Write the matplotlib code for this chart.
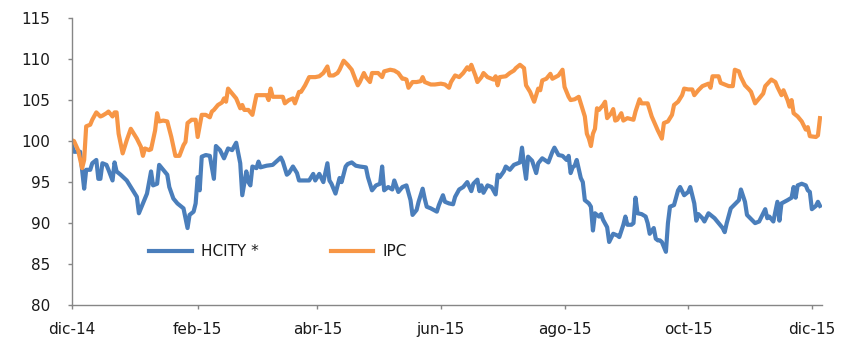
import matplotlib
matplotlib.use("Agg")
import matplotlib.pyplot as plt
import pandas as pd

# Fecha base del eje (días contados desde aquí)
inicio = pd.Timestamp("2014-12-01")

# IPC: días desde el inicio y valor del índice (base 100)
ipc_dias = [0, 1, 3, 5, 6, 7, 9, 10, 12, 14,
            15, 17, 18, 20, 21, 22, 23, 25, 27, 29,
            30, 32, 34, 35, 36, 38, 39, 41, 42, 43,
            45, 47, 49, 51, 53, 55, 56, 57, 59, 61,
            62, 64, 66, 68, 69, 70, 72, 74, 75, 76,
            77, 79, 81, 83, 84, 85, 87, 89, 91, 94,
            96, 97, 98, 99, 102, 104, 105, 107, 109, 110,
            112, 113, 115, 117, 120, 122, 124, 126, 127, 129,
            131, 132, 134, 136, 138, 140, 141, 142, 144, 145,
            147, 148, 151, 153, 154, 157, 159, 161, 163, 164,
            165, 166, 168, 170, 172, 173, 174, 177, 179, 182,
            184, 185, 186, 187, 189, 191, 193, 195, 196, 197,
            199, 200, 202, 203, 205, 208, 209, 210, 211, 214,
            216, 218, 219, 221, 223, 224, 226, 227, 228, 230,
            231, 232, 234, 236, 237, 240, 242, 243, 245, 246,
            248, 250, 251, 253, 254, 255, 256, 257, 258, 259,
            260, 262, 263, 264, 266, 267, 268, 269, 271, 272,
            274, 277, 278, 280, 281, 284, 286, 289, 291, 292,
            294, 296, 297, 299, 301, 302, 304, 306, 307, 309,
            311, 314, 315, 316, 319, 320, 322, 324, 326, 327,
            329, 330, 332, 334, 335, 337, 339, 341, 342, 345,
            347, 348, 350, 351, 353, 354, 355, 356, 358, 360,
            362, 363, 364, 367, 368, 369]
ipc = [100.1, 100.0, 98.9, 96.7, 97.7, 101.8, 102.0, 102.6, 103.5, 103.0,
       103.1, 103.4, 103.6, 103.0, 103.5, 103.5, 100.9, 98.5, 100.1, 101.5,
       101.1, 100.3, 99.3, 98.2, 99.1, 98.9, 99.0, 101.3, 103.4, 102.4,
       102.5, 102.4, 100.5, 98.2, 98.2, 99.5, 99.9, 102.2, 102.6, 102.6,
       100.5, 103.2, 103.2, 102.9, 103.6, 103.8, 104.4, 104.7, 105.2, 104.8,
       106.4, 105.8, 105.2, 104.0, 104.4, 103.8, 103.8, 103.2, 105.6, 105.6,
       105.6, 105.0, 106.4, 105.4, 105.4, 105.4, 104.6, 105.0, 105.2, 104.6,
       106.0, 106.0, 106.8, 107.8, 107.8, 107.9, 108.3, 109.1, 108.0, 108.0,
       108.3, 108.7, 109.8, 109.3, 108.7, 107.4, 106.8, 107.2, 108.3, 107.8,
       107.2, 108.3, 108.3, 107.8, 108.5, 108.7, 108.6, 108.3, 107.6, 107.6,
       107.5, 106.5, 107.2, 107.2, 107.3, 107.8, 107.2, 106.9, 106.9, 107.0,
       106.9, 106.7, 106.5, 107.2, 108.0, 107.8, 108.3, 109.0, 108.7, 109.3,
       108.0, 107.2, 107.8, 108.3, 107.8, 107.5, 107.9, 106.8, 107.8, 107.9,
       108.3, 108.6, 108.9, 109.3, 108.9, 106.8, 106.0, 105.4, 104.8, 106.4,
       106.2, 107.4, 107.6, 108.2, 107.6, 108.0, 108.7, 106.6, 105.4, 105.0,
       105.1, 105.4, 104.6, 103.0, 100.9, 100.3, 99.4, 100.9, 101.5, 104.0,
       103.8, 104.4, 104.8, 102.8, 103.4, 103.9, 102.5, 102.6, 103.4, 102.5,
       102.8, 102.6, 103.6, 105.1, 104.6, 104.6, 103.0, 101.3, 100.3, 102.2,
       102.4, 103.2, 104.4, 104.8, 105.6, 106.4, 106.3, 106.3, 105.6, 106.2,
       106.7, 107.0, 106.5, 107.9, 107.9, 107.1, 106.9, 106.7, 106.7, 108.7,
       108.5, 107.8, 106.8, 106.3, 106.0, 104.6, 105.2, 105.8, 106.7, 107.5,
       107.2, 106.6, 105.6, 106.2, 105.0, 104.2, 105.0, 103.4, 103.0, 102.4,
       101.4, 101.7, 100.6, 100.5, 100.7, 102.8]

# HCITY
hcity_dias = [0, 1, 3, 4, 5, 6, 7, 9, 10, 12,
              13, 14, 15, 17, 18, 20, 21, 22, 24, 27,
              29, 32, 33, 35, 37, 39, 40, 42, 43, 45,
              47, 48, 50, 52, 55, 56, 57, 58, 60, 61,
              62, 63, 64, 66, 68, 70, 71, 73, 75, 77,
              79, 81, 83, 84, 86, 87, 88, 89, 91, 92,
              93, 96, 99, 103, 104, 106, 107, 109, 111, 112,
              115, 117, 119, 120, 122, 124, 126, 127, 128, 130,
              132, 133, 135, 136, 138, 140, 142, 145, 146, 148,
              150, 152, 153, 154, 156, 158, 159, 161, 163, 165,
              167, 168, 170, 171, 173, 174, 175, 177, 180, 181,
              183, 184, 186, 188, 189, 191, 193, 195, 197, 198,
              200, 201, 202, 203, 205, 207, 209, 210, 211, 213,
              214, 216, 218, 220, 221, 222, 223, 224, 225, 227,
              229, 230, 232, 235, 237, 238, 240, 242, 244, 245,
              246, 247, 248, 249, 251, 252, 253, 255, 256, 257,
              258, 260, 261, 262, 264, 265, 267, 269, 270, 272,
              273, 274, 276, 277, 278, 279, 281, 283, 284, 285,
              287, 288, 289, 290, 291, 293, 294, 295, 297, 299,
              300, 302, 304, 305, 307, 308, 309, 311, 312, 314,
              315, 317, 319, 321, 322, 323, 325, 327, 329, 330,
              332, 333, 335, 337, 339, 340, 342, 343, 344, 346,
              348, 349, 350, 353, 355, 356, 357, 358, 360, 362,
              363, 364, 365, 367, 368, 369]
hcity = [99.5, 98.7, 98.7, 98.7, 96.5, 94.2, 96.5, 96.5, 97.3, 97.7,
         95.4, 95.4, 97.3, 97.1, 96.5, 95.2, 97.4, 96.3, 95.9, 95.2,
         94.4, 93.2, 91.2, 92.4, 93.6, 96.3, 94.6, 94.8, 97.1, 96.5,
         95.9, 94.4, 93.0, 92.4, 91.8, 90.6, 89.4, 91.0, 91.4, 92.4,
         95.6, 94.0, 98.1, 98.3, 98.2, 95.4, 99.4, 98.9, 97.9, 99.1,
         98.9, 99.8, 97.3, 93.4, 96.3, 95.0, 94.6, 96.9, 96.7, 97.5,
         96.8, 97.0, 97.1, 98.0, 97.5, 95.9, 96.1, 96.9, 96.1, 95.2,
         95.2, 95.2, 96.0, 95.2, 96.0, 95.0, 97.3, 95.2, 94.8, 93.6,
         95.5, 95.0, 96.9, 97.2, 97.4, 97.0, 96.9, 96.8, 95.6, 94.0,
         94.6, 94.8, 96.9, 94.0, 94.4, 94.1, 95.2, 93.8, 94.4, 94.6,
         92.8, 91.0, 91.6, 92.6, 94.2, 93.0, 92.0, 91.8, 91.4, 92.2,
         93.4, 92.6, 92.4, 92.3, 93.2, 94.1, 94.4, 95.0, 93.9, 94.8,
         95.3, 93.9, 94.6, 93.7, 94.6, 94.4, 93.5, 95.9, 95.6, 96.3,
         96.9, 96.5, 97.1, 97.3, 97.4, 99.2, 97.1, 95.4, 98.1, 97.6,
         96.1, 97.3, 97.9, 97.4, 98.7, 99.2, 98.3, 98.2, 97.7, 98.2,
         96.1, 96.8, 97.0, 97.7, 95.5, 95.0, 92.8, 92.4, 92.0, 89.1,
         91.2, 90.8, 91.1, 90.4, 89.5, 87.7, 88.7, 88.5, 88.3, 89.8,
         90.8, 89.8, 89.8, 90.0, 93.1, 91.2, 91.1, 90.8, 90.0, 88.7,
         89.4, 88.1, 87.9, 87.9, 87.7, 86.5, 90.0, 92.0, 92.2, 94.0,
         94.4, 93.4, 93.8, 94.4, 92.4, 90.3, 91.1, 90.6, 90.2, 91.2,
         91.0, 90.6, 90.0, 89.4, 88.9, 90.0, 91.8, 92.3, 92.8, 94.1,
         92.6, 91.0, 90.5, 90.0, 90.2, 90.7, 91.7, 90.6, 90.8, 90.2,
         92.6, 90.3, 92.4, 92.8, 93.1, 94.4, 93.1, 94.6, 94.8, 94.6,
         94.0, 93.8, 91.7, 92.1, 92.6, 92.1]

# Marcas del eje X
ticks_fechas = ["2014-12-01", "2015-02-01", "2015-04-01", "2015-06-01",
                "2015-08-01", "2015-10-01", "2015-12-01"]
ticks_etiquetas = ["dic-14", "feb-15", "abr-15", "jun-15", "ago-15", "oct-15", "dic-15"]

fechas_ipc = inicio + pd.to_timedelta(ipc_dias, unit="D")
fechas_hcity = inicio + pd.to_timedelta(hcity_dias, unit="D")

azul = "#4A7EBB"
naranja = "#F79646"
gris = "#868686"

fig = plt.figure(figsize=(8.47, 3.54), dpi=100)
ax = fig.add_axes([0.085, 0.138, 0.885, 0.811])

ax.plot(fechas_hcity, hcity, color=azul, lw=3, label="HCITY *", solid_joinstyle="round")
ax.plot(fechas_ipc, ipc, color=naranja, lw=3, label="IPC", solid_joinstyle="round")

ax.set_ylim(80, 115)
ax.set_yticks(range(80, 116, 5))
ax.set_xlim(inicio, inicio + pd.Timedelta(days=369.8))
ax.set_xticks(pd.to_datetime(ticks_fechas))
ax.set_xticklabels(ticks_etiquetas)

for lado in ["top", "right"]:
    ax.spines[lado].set_visible(False)
for lado in ["left", "bottom"]:
    ax.spines[lado].set_color(gris)
    ax.spines[lado].set_linewidth(1)

ax.tick_params(axis="both", direction="out", length=3, width=1, color=gris,
               labelsize=11, labelcolor="#1a1a1a")
ax.tick_params(axis="x", pad=9)
ax.tick_params(axis="y", pad=12.5)

ax.legend(loc="center left", bbox_to_anchor=(0.103, 0.186), ncol=2, frameon=False,
          fontsize=11, handlelength=2.8, handletextpad=0.6, columnspacing=4.7,
          borderpad=0, borderaxespad=0, labelcolor="#1a1a1a")

fig.savefig("out.png", dpi=100)
